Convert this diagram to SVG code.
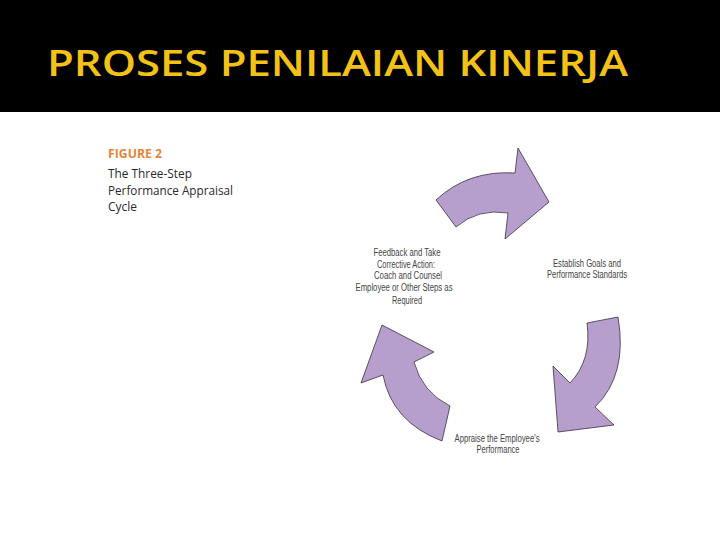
<svg xmlns="http://www.w3.org/2000/svg" width="720" height="540" viewBox="0 0 720 540">
<style>
.arrow{fill:#B69FCC;stroke:#3a3040;stroke-width:0.8;stroke-linejoin:miter}
.lbl{font-family:"Liberation Sans",Arial,sans-serif;font-size:10px;fill:#444;text-anchor:middle}
.cap{font-family:"Open Sans","Liberation Sans",sans-serif;font-size:12px;fill:#2a2a2a}
</style>
<rect x="0" y="0" width="720" height="540" fill="#ffffff"/>
<rect x="0" y="0" width="720" height="112" fill="#000000"/>
<text x="47" y="76" font-family="'Open Sans','Liberation Sans',sans-serif" font-size="36" font-weight="600" fill="#F2C216" textLength="581" lengthAdjust="spacingAndGlyphs">PROSES PENILAIAN KINERJA</text>
<g id="caption">
<text x="108" y="158" class="cap" style="fill:#E4863A;font-weight:700" textLength="54" lengthAdjust="spacingAndGlyphs">FIGURE 2</text>
<text x="108" y="178" class="cap" textLength="84" lengthAdjust="spacingAndGlyphs">The Three-Step</text>
<text x="108" y="195" class="cap" textLength="125" lengthAdjust="spacingAndGlyphs">Performance Appraisal</text>
<text x="108" y="211" class="cap" textLength="29" lengthAdjust="spacingAndGlyphs">Cycle</text>
</g>
<g id="connectors">
<path id="arrow-top" class="arrow" d="M436,200 Q468,170 515,173 L518,148 L549,202 L505,239 L508,213 Q478,208 456,227 Z"/>
<path id="arrow-right" class="arrow" d="M618,317 Q628,375 595,407 L614,425 L558,432 L553,366 L570,383 Q592,360 587,323 Z"/>
<path id="arrow-left" class="arrow" d="M382,325 L434,352 L414,362 Q422,392 450,406 L442,441 Q392,422 383,375 L361,383 Z"/>
</g>
<g id="node-establish">
<text x="587" y="267" class="lbl" textLength="68" lengthAdjust="spacingAndGlyphs">Establish Goals and</text>
<text x="587" y="278" class="lbl" textLength="80" lengthAdjust="spacingAndGlyphs">Performance Standards</text>
</g>
<g id="node-appraise">
<text x="497" y="442" class="lbl" textLength="85" lengthAdjust="spacingAndGlyphs">Appraise the Employee's</text>
<text x="498" y="453" class="lbl" textLength="43" lengthAdjust="spacingAndGlyphs">Performance</text>
</g>
<g id="node-feedback">
<text x="407" y="256" class="lbl" textLength="67" lengthAdjust="spacingAndGlyphs">Feedback and Take</text>
<text x="406" y="268" class="lbl" textLength="58" lengthAdjust="spacingAndGlyphs">Corrective Action:</text>
<text x="408" y="279" class="lbl" textLength="68" lengthAdjust="spacingAndGlyphs">Coach and Counsel</text>
<text x="404" y="291" class="lbl" textLength="97" lengthAdjust="spacingAndGlyphs">Employee or Other Steps as</text>
<text x="407" y="304" class="lbl" textLength="30" lengthAdjust="spacingAndGlyphs">Required</text>
</g>
</svg>
